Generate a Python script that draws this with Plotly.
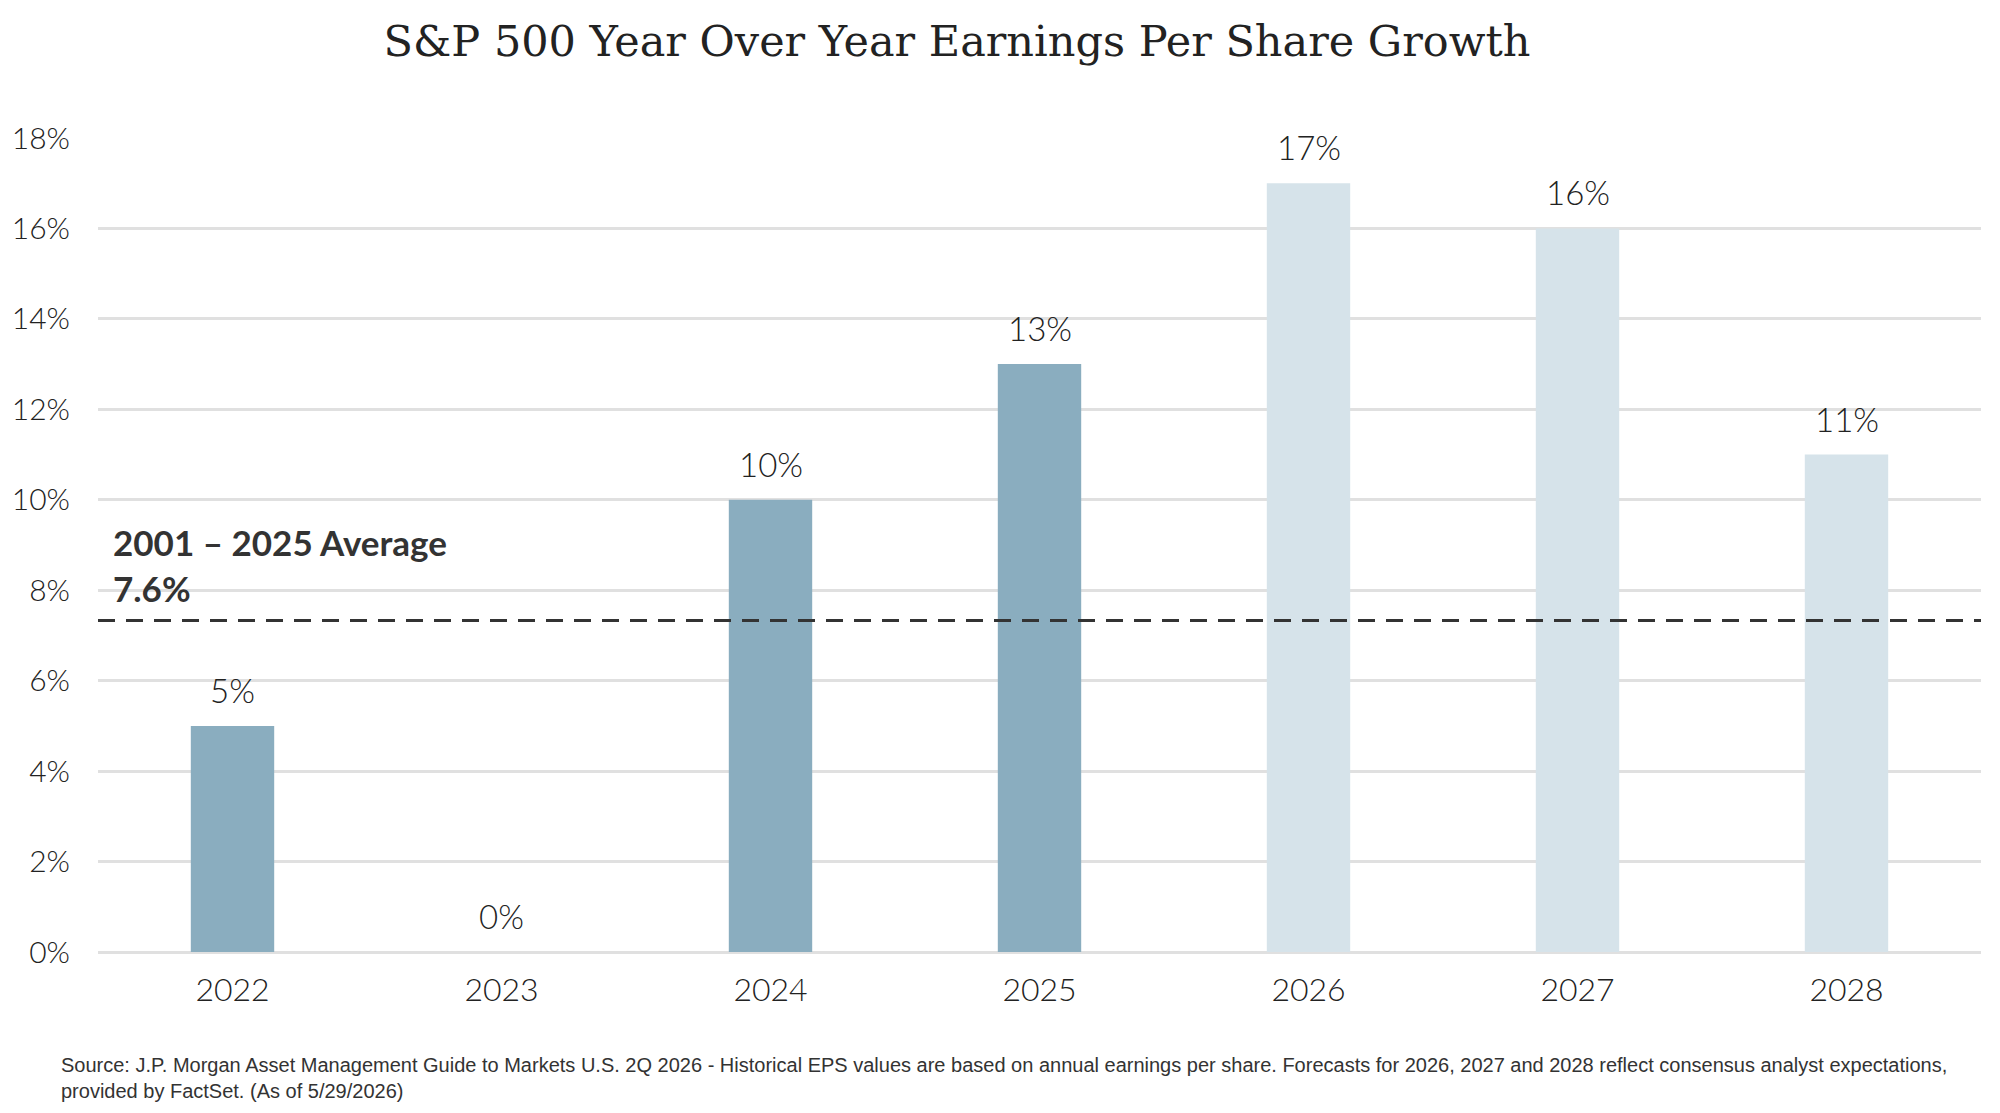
import plotly.graph_objects as go

years = ["2022", "2023", "2024", "2025", "2026", "2027", "2028"]
eps_growth = [5, 0, 10, 13, 17, 16, 11]
is_forecast = [False, False, False, False, True, True, True]
bar_labels = ["5%", "0%", "10%", "13%", "17%", "16%", "11%"]
avg_label_value = "7.6%"
avg_line_level = 7.33
y_ticks = [0, 2, 4, 6, 8, 10, 12, 14, 16, 18]
y_tick_labels = [f"{v}%" for v in y_ticks]

hist_color = "#8AADBF"
fcst_color = "#D6E3EA"
colors = [fcst_color if f else hist_color for f in is_forecast]

fig = go.Figure()
fig.add_trace(go.Bar(
    x=years, y=eps_growth, marker=dict(color=colors, line=dict(width=0)),
    width=0.31, cliponaxis=False, hoverinfo="skip",
))

for i, (val, lab) in enumerate(zip(eps_growth, bar_labels)):
    fig.add_annotation(x=i, y=val, xref="x", yref="y", text=lab,
                       showarrow=False, yanchor="bottom", yshift=14,
                       font=dict(family="Lato", size=33, color="#222222", weight=300))

fig.add_shape(type="line", xref="paper", yref="y", x0=0, x1=1,
              y0=avg_line_level, y1=avg_line_level,
              line=dict(color="#333333", width=3, dash="17px,11px"))

fig.add_annotation(xref="paper", yref="y", x=0.0, y=avg_line_level,
                   xanchor="left", yanchor="bottom", xshift=13, yshift=10,
                   align="left",
                   text=f"<b>2001 – 2025 Average<br>{avg_label_value}</b>",
                   showarrow=False,
                   font=dict(family="Lato", size=35, color="#333333"))

fig.add_annotation(xref="paper", yref="paper", x=-39 / 1883, y=-100 / 814,
                   xanchor="left", yanchor="top", align="left", showarrow=False,
                   text=("Source: J.P. Morgan Asset Management Guide to Markets U.S. 2Q 2026 - Historical EPS values are based on annual earnings per share. Forecasts for 2026, 2027 and 2028 reflect consensus analyst expectations,"
                         "<br>provided by FactSet. (As of 5/29/2026)"),
                   font=dict(family="Liberation Sans Narrow, Liberation Sans, sans-serif", size=20, color="#333333"))

fig.update_layout(
    width=2000, height=1113,
    margin=dict(l=98, r=19, t=138, b=161),
    paper_bgcolor="white", plot_bgcolor="white",
    showlegend=False,
    title=dict(text="S&P 500 Year Over Year Earnings Per Share Growth",
               x=957 / 2000, xanchor="center", y=1 - 41 / 1113, yanchor="middle",
               font=dict(family="DejaVu Serif", size=43, color="#222222")),
    xaxis=dict(type="category", categoryorder="array", categoryarray=years,
               range=[-0.5, len(years) - 0.5],
               showgrid=False, showline=False, zeroline=False,
               ticks="", ticklabelstandoff=16,
               tickfont=dict(family="Lato", size=32, color="#222222", weight=300)),
    yaxis=dict(range=[0, 18], tickvals=y_ticks, ticktext=y_tick_labels,
               showgrid=True, gridcolor="#e0e0e0", gridwidth=3,
               zeroline=True, zerolinecolor="#e0e0e0", zerolinewidth=3,
               showline=False, ticks="", ticklabelstandoff=27,
               tickfont=dict(family="Lato", size=30, color="#222222", weight=300)),
)

fig.write_html("out.html")
